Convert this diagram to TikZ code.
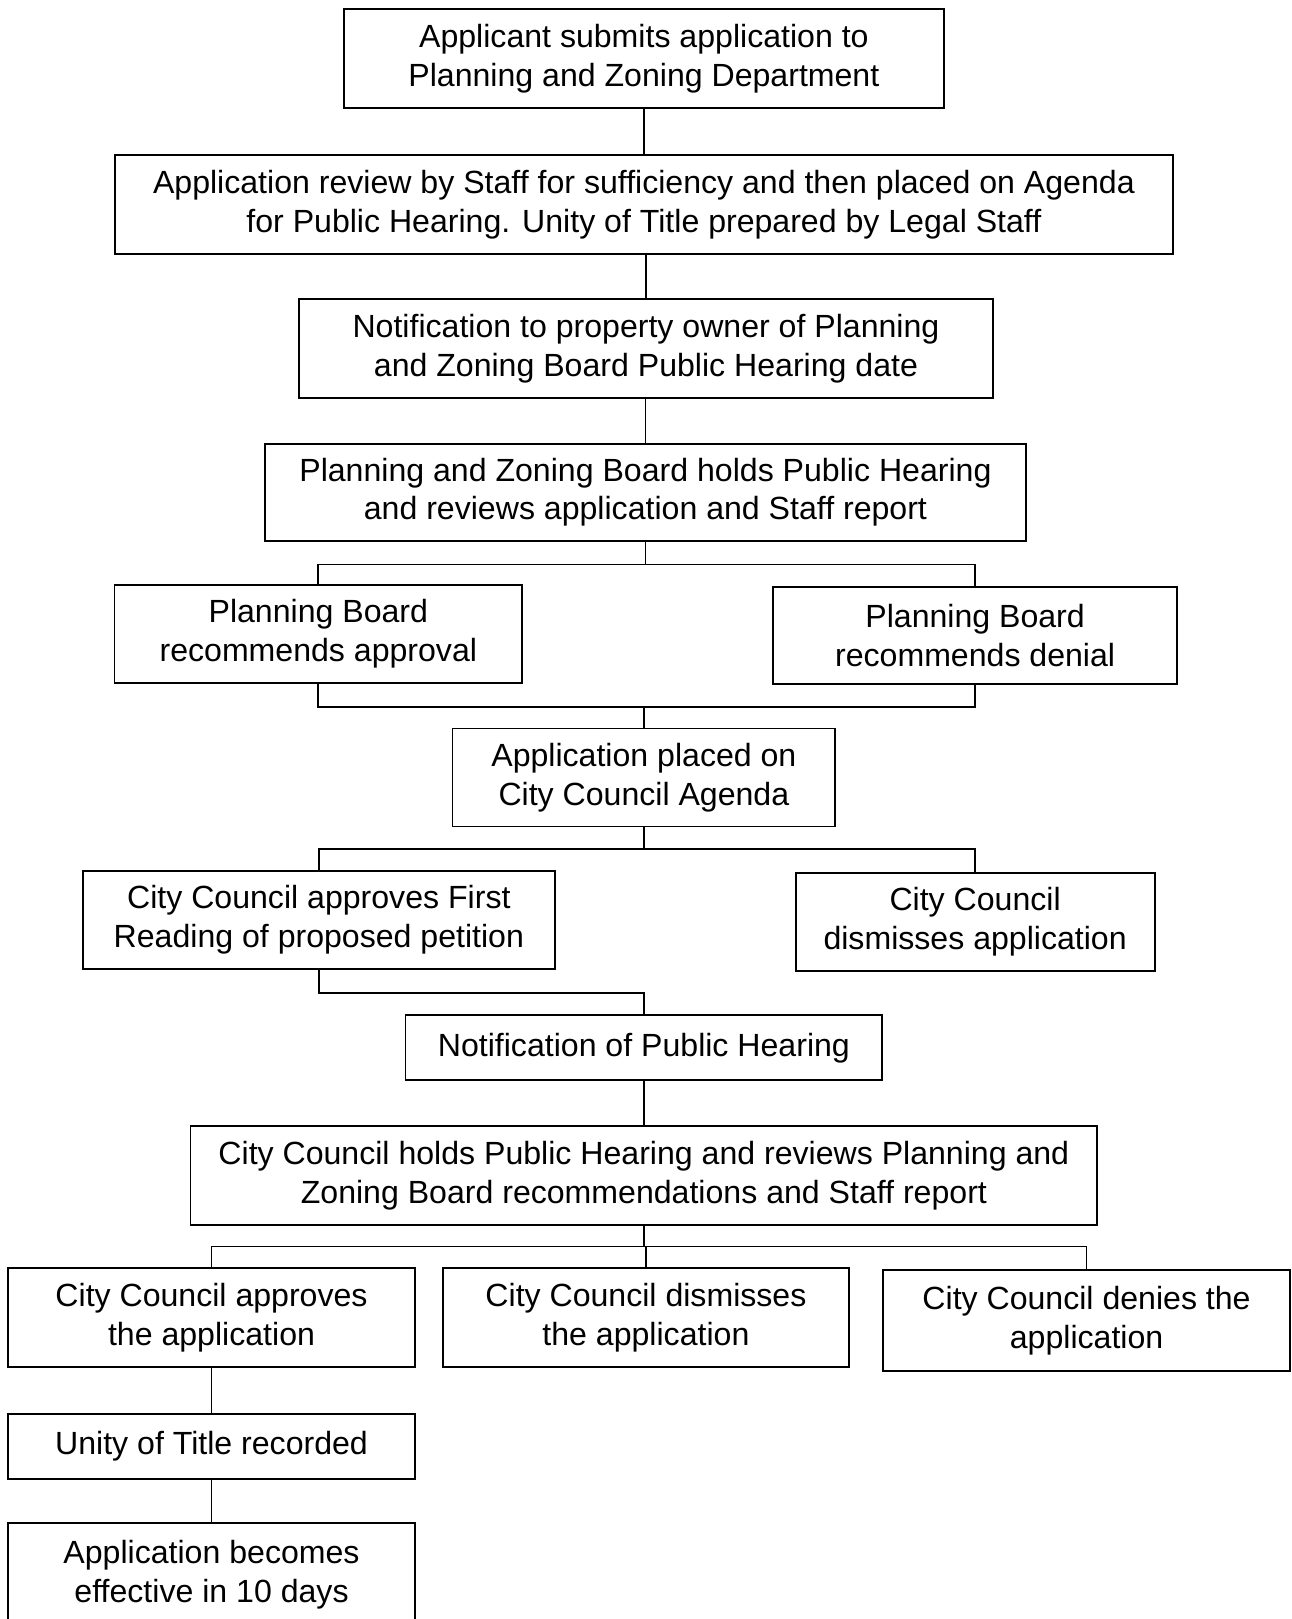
\documentclass[tikz,border=0pt]{standalone}
\usepackage{fontspec}
\setmainfont{Liberation Sans}
\usepackage{tikz}
\usetikzlibrary{positioning}

\begin{document}
\begin{tikzpicture}[x=0.02cm,y=-0.02cm,
		box/.style={draw,line width=1pt,rectangle,inner sep=0pt,align=center,
			font=\fontsize{17.7}{21.5}\selectfont},
		link/.style={line width=1pt}]
		\useasboundingbox (0,0) rectangle (1252,1569);
		% planning and zoning stage
		\node[box,minimum width=11.64cm,minimum height=1.92cm] (submit) at (624,57)
			{Applicant submits application to\\Planning and Zoning Department};
		\node[box,minimum width=20.52cm,minimum height=1.92cm] (review) at (624,198)
			{Application review by Staff for sufficiency and then placed on Agenda\\for Public Hearing. Unity of Title prepared by Legal Staff};
		\node[box,minimum width=13.44cm,minimum height=1.92cm] (notify) at (626,338)
			{Notification to property owner of Planning\\and Zoning Board Public Hearing date};
		\node[box,minimum width=14.74cm,minimum height=1.88cm] (pzhear) at (625.5,477)
			{Planning and Zoning Board holds Public Hearing\\and reviews application and Staff report};
		\node[box,minimum width=7.90cm,minimum height=1.90cm] (pbapprove) at (308.5,614.5)
			{Planning Board\\recommends approval};
		\node[box,minimum width=7.84cm,minimum height=1.88cm] (pbdeny) at (945,616)
			{Planning Board\\recommends denial};
		\node[box,minimum width=7.42cm,minimum height=1.90cm] (agenda) at (624,753.5)
			{Application placed on\\City Council Agenda};
		% city council stage
		\node[box,minimum width=9.16cm,minimum height=1.90cm] (first) at (309,891.5)
			{City Council approves First\\Reading of proposed petition};
		\node[box,minimum width=6.96cm,minimum height=1.90cm] (ccdismiss) at (945,893.5)
			{City Council\\dismisses application};
		\node[box,minimum width=9.24cm,minimum height=1.26cm] (hearnote) at (624,1015.5)
			{Notification of Public Hearing};
		\node[box,minimum width=17.58cm,minimum height=1.92cm] (cchear) at (624,1139)
			{City Council holds Public Hearing and reviews Planning and\\Zoning Board recommendations and Staff report};
		\node[box,minimum width=7.88cm,minimum height=1.92cm] (approve) at (205,1277)
			{City Council approves\\the application};
		\node[box,minimum width=7.88cm,minimum height=1.92cm] (dismiss) at (626,1277)
			{City Council dismisses\\the application};
		\node[box,minimum width=7.88cm,minimum height=1.96cm] (deny) at (1053,1280)
			{City Council denies the\\application};
		\node[box,minimum width=7.88cm,minimum height=1.26cm] (unity) at (205,1401.5)
			{Unity of Title recorded};
		\node[box,minimum width=7.88cm,minimum height=2.00cm] (effective) at (205,1526)
			{Application becomes\\effective in 10 days};
		% junctions
		\coordinate (j1) at (626,547);
		\coordinate (j2) at (624,685);
		\coordinate (j3) at (624,823);
		\coordinate (j4) at (624,962);
		\coordinate (j5) at (626,1208);
		% connectors
		\draw[link] (submit) -- (review);
		\draw[link] (review.south -| notify) -- (notify);
		\draw[link] (notify.south -| pzhear) -- (pzhear);
		\draw[link] (pzhear.south) -- (pzhear.south |- j1);
		\draw[link] (pbapprove.north) |- (j1) -| (pbdeny.north);
		\draw[link] (pbapprove.south) |- (j2) -| (pbdeny.south);
		\draw[link] (j2) -- (agenda.north);
		\draw[link] (agenda.south) -- (j3);
		\draw[link] (first.north) |- (j3) -| (ccdismiss.north);
		\draw[link] (first.south) |- (j4) -- (hearnote.north);
		\draw[link] (hearnote) -- (cchear);
		\draw[link] (cchear.south) -- (cchear.south |- j5);
		\draw[link] (approve.north) |- (j5) -| (deny.north);
		\draw[link] (j5) -- (dismiss.north);
		\draw[link] (approve) -- (unity);
		\draw[link] (unity) -- (effective);
	\end{tikzpicture}
\end{document}
